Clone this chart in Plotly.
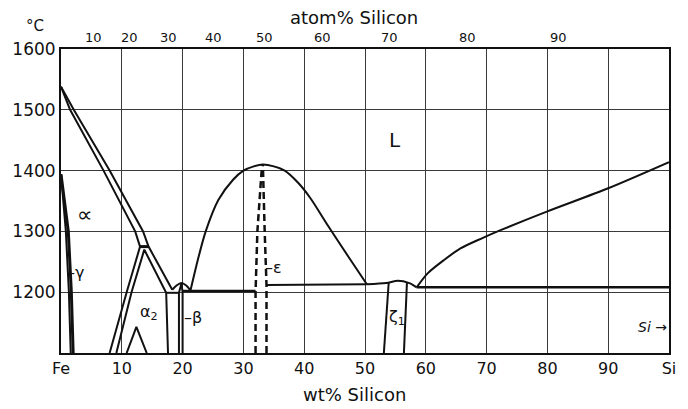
import plotly.graph_objects as go

# ---- axis ticks -------------------------------------------------------
wt_ticks = [0, 10, 20, 30, 40, 50, 60, 70, 80, 90, 100]
wt_labels = ["Fe", "10", "20", "30", "40", "50", "60", "70", "80", "90", "Si"]
temp_ticks = [1200, 1300, 1400, 1500, 1600]
# atom% Si marks, placed at their wt% equivalents
at_ticks_wt = [5.3, 11.2, 17.7, 25.1, 33.5, 43.0, 54.0, 66.8, 81.9]
at_labels = ["10", "20", "30", "40", "50", "60", "70", "80", "90"]

# ---- phase boundaries (wt% Si, °C) -----------------------------------
gamma_inner_w = [0.0, 0.8, 1.3, 1.6]
gamma_inner_t = [1394, 1300, 1200, 1100]
gamma_outer_w = [0.0, 1.2, 1.7, 2.0]
gamma_outer_t = [1394, 1300, 1200, 1100]

solidus_w = [0.0, 1.5, 7.0, 12.2, 13.0, 10.8, 8.0]
solidus_t = [1538, 1500, 1400, 1300, 1275, 1200, 1100]
junction_w = [13.0, 14.4]
junction_t = [1275, 1275]
liquidus_fe_w = [0.0, 2.1, 8.0, 13.5, 14.4, 18.3]
liquidus_fe_t = [1538, 1500, 1400, 1300, 1275, 1204]

a2_inner_w = [9.1, 11.6, 13.7, 17.3, 17.6]
a2_inner_t = [1100, 1200, 1270, 1199, 1100]
a2_top_w = [17.3, 19.4]
a2_top_t = [1199, 1199]
a3_w = [10.8, 12.4, 14.1]
a3_t = [1100, 1143, 1100]

beta_left_w = [19.4, 19.4, 19.8]
beta_left_t = [1100, 1199, 1214]
beta_right_w = [20.0, 20.0, 19.8]
beta_right_t = [1100, 1200, 1214]
beta_dome_w = [18.3, 19.0, 19.8, 20.6, 21.3]
beta_dome_t = [1204, 1211, 1215, 1211, 1203]

eut1_w = [20.0, 32.0]
eut1_t = [1202, 1202]

fesi_dome_w = [21.3, 22.5, 23.8, 25.9, 28.3, 30.0, 31.7, 33.2,
               35.0, 36.8, 39.0, 41.0, 44.0, 47.3, 50.3]
fesi_dome_t = [1203, 1253, 1300, 1352, 1385, 1400, 1407, 1410,
               1407, 1400, 1380, 1355, 1308, 1258, 1213]

eps_left_w = [32.0, 32.0, 32.3, 33.0, 33.2]
eps_left_t = [1100, 1200, 1300, 1400, 1410]
eps_right_w = [33.8, 33.8, 33.5, 33.3, 33.2]
eps_right_t = [1100, 1212, 1300, 1400, 1410]

eut2_w = [33.8, 50.3]
eut2_t = [1212, 1213]
zeta_dome_w = [50.3, 53.5, 55.4, 57.3, 58.5]
zeta_dome_t = [1213, 1215, 1219, 1215, 1208]
zeta_left_w = [53.9, 53.1]
zeta_left_t = [1216, 1100]
zeta_right_w = [56.9, 56.4]
zeta_right_t = [1216, 1100]

eut3_w = [58.5, 100.0]
eut3_t = [1208, 1208]
liquidus_si_w = [58.5, 60.3, 63.0, 65.7, 69.3, 72.3, 80.0, 90.0, 100.0]
liquidus_si_t = [1208, 1231, 1253, 1272, 1289, 1302, 1333, 1371, 1414]

INK = "#111111"

curves = [
    (gamma_inner_w, gamma_inner_t, 2, "solid", "linear"),
    (gamma_outer_w, gamma_outer_t, 3, "solid", "linear"),
    (solidus_w, solidus_t, 2, "solid", "linear"),
    (junction_w, junction_t, 3, "solid", "linear"),
    (liquidus_fe_w, liquidus_fe_t, 2, "solid", "linear"),
    (a2_inner_w, a2_inner_t, 2, "solid", "linear"),
    (a2_top_w, a2_top_t, 2, "solid", "linear"),
    (a3_w, a3_t, 2, "solid", "linear"),
    (beta_left_w, beta_left_t, 2, "solid", "linear"),
    (beta_right_w, beta_right_t, 2, "solid", "linear"),
    (beta_dome_w, beta_dome_t, 2, "solid", "spline"),
    (eut1_w, eut1_t, 2.5, "solid", "linear"),
    (fesi_dome_w, fesi_dome_t, 2, "solid", "spline"),
    (eps_left_w, eps_left_t, 2.5, "7px,4px", "linear"),
    (eps_right_w, eps_right_t, 2.5, "7px,4px", "linear"),
    (eut2_w, eut2_t, 2, "solid", "linear"),
    (zeta_dome_w, zeta_dome_t, 2, "solid", "spline"),
    (zeta_left_w, zeta_left_t, 2, "solid", "linear"),
    (zeta_right_w, zeta_right_t, 2, "solid", "linear"),
    (eut3_w, eut3_t, 2.5, "solid", "linear"),
    (liquidus_si_w, liquidus_si_t, 2, "solid", "spline"),
]

fig = go.Figure()
for xs, ys, width, dash, shape in curves:
    fig.add_trace(go.Scatter(
        x=xs, y=ys, mode="lines", showlegend=False, hoverinfo="skip",
        line=dict(color=INK, width=width, dash=dash, shape=shape, smoothing=0.8),
    ))

FONT = "DejaVu Sans"
phase_labels = [
    ("L", 55.0, 1450, "center", 20),
    ("∝", 4.0, 1327, "center", 22),
    ("–γ", 0.6, 1233, "left", 16),
    ("α<sub>2</sub>", 14.4, 1166, "center", 16),
    ("–β", 19.9, 1158, "left", 16),
    ("–ε", 33.3, 1241, "left", 16),
    ("ζ<sub>1</sub>", 55.2, 1158, "center", 16),
    ("<i>Si</i> →", 100.0, 1143, "right", 14),
]
annotations = []
for text, xw, yt, anchor, size in phase_labels:
    annotations.append(dict(x=xw, y=yt, xref="x", yref="y", text=text,
                            showarrow=False, xanchor=anchor, yanchor="middle",
                            font=dict(family=FONT, size=size, color=INK)))

# atom% scale along the top edge
for xw, lab in zip(at_ticks_wt, at_labels):
    annotations.append(dict(x=xw, y=1.037, xref="x", yref="paper", text=lab,
                            showarrow=False, xanchor="center", yanchor="middle",
                            font=dict(family=FONT, size=13, color=INK)))

annotations += [
    dict(x=-0.043, y=1.075, xref="paper", yref="paper", text="°C", showarrow=False,
         xanchor="center", yanchor="middle", font=dict(family=FONT, size=15, color=INK)),
    dict(x=0.482, y=1.104, xref="paper", yref="paper", text="atom% Silicon",
         showarrow=False, xanchor="center", yanchor="middle",
         font=dict(family=FONT, size=18, color=INK)),
    dict(x=0.482, y=-0.138, xref="paper", yref="paper", text="wt% Silicon",
         showarrow=False, xanchor="center", yanchor="middle",
         font=dict(family=FONT, size=18, color=INK)),
]

grid = dict(showgrid=True, gridcolor="#3a3a3a", gridwidth=1, zeroline=False,
            showline=True, linecolor=INK, linewidth=2, mirror=True, ticks="")

fig.update_layout(
    width=688, height=409,
    margin=dict(l=58, r=14, t=49, b=56),
    paper_bgcolor="white", plot_bgcolor="white",
    font=dict(family=FONT, color=INK),
    xaxis=dict(range=[0, 100], tickvals=wt_ticks, ticktext=wt_labels,
               tickfont=dict(size=16), **grid),
    yaxis=dict(range=[1100, 1600], tickvals=temp_ticks, tickfont=dict(size=17), **grid),
    annotations=annotations,
)

fig.write_html("out.html")
